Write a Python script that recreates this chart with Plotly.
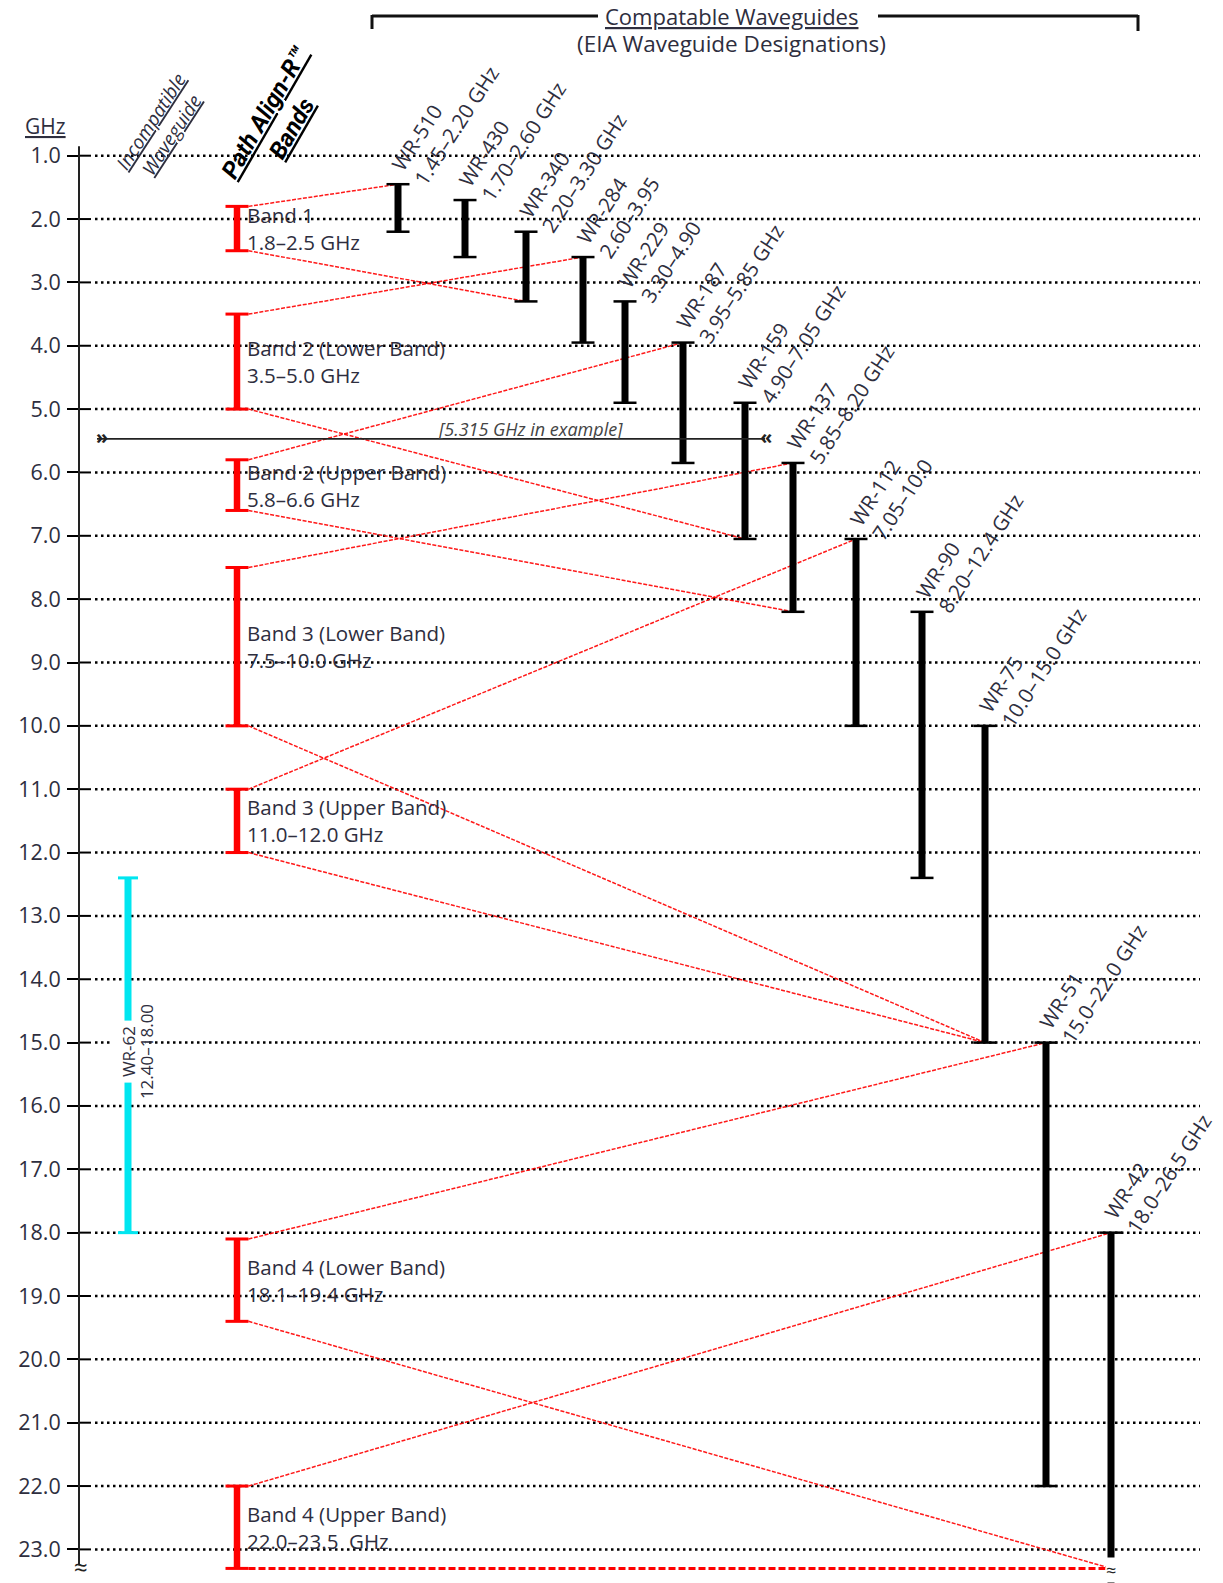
import plotly.graph_objects as go

# ---------------- data ----------------
TICK_VALUES = [1, 2, 3, 4, 5, 6, 7, 8, 9, 10, 11, 12, 13, 14, 15, 16, 17, 18, 19, 20, 21, 22, 23]
TICK_LABELS = ["1.0", "2.0", "3.0", "4.0", "5.0", "6.0", "7.0", "8.0", "9.0", "10.0", "11.0", "12.0",
               "13.0", "14.0", "15.0", "16.0", "17.0", "18.0", "19.0", "20.0", "21.0", "22.0", "23.0"]

WG_NAMES = ["WR-510", "WR-430", "WR-340", "WR-284", "WR-229", "WR-187", "WR-159",
            "WR-137", "WR-112", "WR-90", "WR-75", "WR-51", "WR-42"]
WG_LOW = [1.45, 1.70, 2.20, 2.60, 3.30, 3.95, 4.90, 5.85, 7.05, 8.20, 10.0, 15.0, 18.0]
WG_HIGH = [2.20, 2.60, 3.30, 3.95, 4.90, 5.85, 7.05, 8.20, 10.0, 12.4, 15.0, 22.0, 26.5]
WG_RANGE_TEXT = ["1.45–2.20 GHz", "1.70–2.60 GHz", "2.20–3.30 GHz", "2.60–3.95", "3.30–4.90",
                 "3.95–5.85 GHz", "4.90–7.05 GHz", "5.85–8.20 GHz", "7.05–10.0", "8.20–12.4 GHz",
                 "10.0–15.0 GHz", "15.0–22.0 GHz", "18.0–26.5 GHz"]

BAND_NAMES = ["Band 1", "Band 2 (Lower Band)", "Band 2 (Upper Band)", "Band 3 (Lower Band)",
              "Band 3 (Upper Band)", "Band 4 (Lower Band)", "Band 4 (Upper Band)"]
BAND_LOW = [1.8, 3.5, 5.8, 7.5, 11.0, 18.1, 22.0]
BAND_HIGH = [2.5, 5.0, 6.6, 10.0, 12.0, 19.4, 23.5]
BAND_RANGE_TEXT = ["1.8–2.5 GHz", "3.5–5.0 GHz", "5.8–6.6 GHz", "7.5–10.0 GHz",
                   "11.0–12.0 GHz", "18.1–19.4 GHz", "22.0–23.5  GHz"]
# compatible waveguide range per band (first / last compatible waveguide)
BAND_FIRST_WG = ["WR-510", "WR-284", "WR-187", "WR-137", "WR-112", "WR-51", "WR-42"]
BAND_LAST_WG = ["WR-340", "WR-159", "WR-137", "WR-75", "WR-75", "WR-42", "WR-42"]

INCOMP_NAME = "WR-62"
INCOMP_LOW = 12.40
INCOMP_HIGH = 18.00
INCOMP_RANGE_TEXT = "12.40–18.00"

EXAMPLE_TEXT = "[5.315 GHz in example]"
EXAMPLE_LINE_GHZ = 5.47  # where the example line is drawn in the picture

# ---------------- layout constants ----------------
FIG_W, FIG_H = 1223, 1583
Y1_PX = 155.7
PX_PER_GHZ = 63.35
Y_TOP = 1 - Y1_PX / PX_PER_GHZ
Y_BOTTOM = 1 + (FIG_H - Y1_PX) / PX_PER_GHZ
BREAK = 23.3          # axis break: off-scale values are shown here

AXIS_X = 79
BAND_X = 237
WG_X = [398, 465, 526, 583, 625, 683, 745, 793, 856, 922, 985, 1046, 1111]
INCOMP_X = 128
CAP = 11.5
GRID_X0, GRID_X1 = 95, 1200

TEXT_COLOR = "#2e2e3e"
FONT = "Open Sans"


def shown(v):
    return min(v, BREAK)


def py(px):  # pixel row -> paper fraction
    return 1 - px / FIG_H


wg_index = {n: i for i, n in enumerate(WG_NAMES)}

fig = go.Figure()

# red connector lines (band range -> compatible waveguides)
cx, cy = [], []
for i in range(len(BAND_NAMES)):
    f = wg_index[BAND_FIRST_WG[i]]
    l = wg_index[BAND_LAST_WG[i]]
    cx += [BAND_X + CAP, WG_X[f], None]
    cy += [BAND_LOW[i], WG_LOW[f], None]
    if i < len(BAND_NAMES) - 1:
        cx += [BAND_X + CAP, WG_X[l], None]
        cy += [shown(BAND_HIGH[i]), shown(WG_HIGH[l]), None]
fig.add_trace(go.Scatter(x=cx, y=cy, mode="lines",
                         line=dict(color="rgba(255,0,0,0.9)", width=1.5, dash="4px,1.5px"),
                         hoverinfo="skip"))
# last band bottom -> WR-42 bottom (heavy dashed, along the break)
last = len(BAND_NAMES) - 1
lw = wg_index[BAND_LAST_WG[last]]
fig.add_trace(go.Scatter(x=[BAND_X + CAP, WG_X[lw]],
                         y=[shown(BAND_HIGH[last]), shown(WG_HIGH[lw])], mode="lines",
                         line=dict(color="red", width=3, dash="7px,3px"), hoverinfo="skip"))

# waveguide bars
bx, by, kx, ky = [], [], [], []
for i in range(len(WG_NAMES)):
    bx += [WG_X[i], WG_X[i], None]
    by += [WG_LOW[i], WG_HIGH[i], None]
    for v in (WG_LOW[i], WG_HIGH[i]):
        kx += [WG_X[i] - CAP, WG_X[i] + CAP, None]
        ky += [v, v, None]
fig.add_trace(go.Scatter(x=bx, y=by, mode="lines", line=dict(color="black", width=7), hoverinfo="skip"))
fig.add_trace(go.Scatter(x=kx, y=ky, mode="lines", line=dict(color="black", width=2.5), hoverinfo="skip"))

# band bars
rx, ry, rkx, rky = [], [], [], []
for i in range(len(BAND_NAMES)):
    rx += [BAND_X, BAND_X, None]
    ry += [BAND_LOW[i], shown(BAND_HIGH[i]), None]
    for v in (BAND_LOW[i], shown(BAND_HIGH[i])):
        rkx += [BAND_X - CAP, BAND_X + CAP, None]
        rky += [v, v, None]
fig.add_trace(go.Scatter(x=rx, y=ry, mode="lines", line=dict(color="red", width=6.5), hoverinfo="skip"))
fig.add_trace(go.Scatter(x=rkx, y=rky, mode="lines", line=dict(color="red", width=3), hoverinfo="skip"))

# incompatible waveguide (cyan)
fig.add_trace(go.Scatter(x=[INCOMP_X, INCOMP_X], y=[INCOMP_LOW, INCOMP_HIGH], mode="lines",
                         line=dict(color="#00E6F0", width=7), hoverinfo="skip"))
fig.add_trace(go.Scatter(x=[INCOMP_X - 10, INCOMP_X + 10, None, INCOMP_X - 10, INCOMP_X + 10],
                         y=[INCOMP_LOW, INCOMP_LOW, None, INCOMP_HIGH, INCOMP_HIGH], mode="lines",
                         line=dict(color="#00E6F0", width=3), hoverinfo="skip"))

# example frequency line
fig.add_trace(go.Scatter(x=[97, 765], y=[EXAMPLE_LINE_GHZ, EXAMPLE_LINE_GHZ], mode="lines",
                         line=dict(color="#222", width=1.6), hoverinfo="skip"))

shapes = []
# dotted grid lines
for v in TICK_VALUES:
    shapes.append(dict(type="line", xref="x", yref="y", x0=GRID_X0, x1=GRID_X1, y0=v, y1=v,
                       line=dict(color="black", width=2.5, dash="2.5px,3.5px"), layer="below"))
    # inner half of the crossing tick
    shapes.append(dict(type="line", xref="x", yref="y", x0=AXIS_X, x1=AXIS_X + 12, y0=v, y1=v,
                       line=dict(color="black", width=2)))
# axis line
shapes.append(dict(type="line", xref="x", yref="y", x0=AXIS_X, x1=AXIS_X, y0=0.85, y1=BREAK - 0.05,
                   line=dict(color="#222", width=2)))
# bracket above compatible waveguides
for (x0, y0, x1, y1) in [(372, 16, 598, 16), (878, 16, 1138, 16), (372, 15, 372, 29), (1138, 15, 1138, 31)]:
    shapes.append(dict(type="line", xref="x", yref="paper", x0=x0, x1=x1, y0=py(y0), y1=py(y1),
                       line=dict(color="#111", width=3)))

ann = []
UL = "<span style='text-decoration:underline'>{}</span>"


def A(**kw):
    d = dict(showarrow=False, xanchor="center", yanchor="middle")
    d.update(kw)
    ann.append(d)


# waveguide labels
for i in range(len(WG_NAMES)):
    A(x=WG_X[i], y=WG_LOW[i], xref="x", yref="y",
      text=f"{WG_NAMES[i]}<br>{WG_RANGE_TEXT[i]}", textangle=-57,
      xanchor="left", yanchor="bottom", align="left", xshift=-16, yshift=-9,
      font=dict(family=FONT, size=20.5, color=TEXT_COLOR))
# band labels
for i in range(len(BAND_NAMES)):
    mid = (BAND_LOW[i] + shown(BAND_HIGH[i])) / 2
    A(x=BAND_X, y=mid, xref="x", yref="y",
      text=f"{BAND_NAMES[i]}<br>{BAND_RANGE_TEXT[i]}", xanchor="left", align="left", xshift=8,
      font=dict(family=FONT, size=20.5, color=TEXT_COLOR))
# incompatible label
mid_inc = (INCOMP_LOW + INCOMP_HIGH) / 2 - 0.05
A(x=INCOMP_X, y=mid_inc, xref="x", yref="y", text=INCOMP_NAME, textangle=-90,
  bgcolor="white", borderpad=5, font=dict(family=FONT, size=17, color=TEXT_COLOR))
A(x=INCOMP_X, y=mid_inc, xref="x", yref="y", text=INCOMP_RANGE_TEXT, textangle=-90, xshift=18,
  font=dict(family=FONT, size=17, color=TEXT_COLOR))
# example text and chevrons
A(x=530, y=EXAMPLE_LINE_GHZ, xref="x", yref="y", text=f"<i>{EXAMPLE_TEXT}</i>", yshift=10,
  font=dict(family=FONT, size=18, color="#444"))
A(x=102, y=EXAMPLE_LINE_GHZ, xref="x", yref="y", text="<b>»</b>", yshift=2,
  font=dict(family=FONT, size=20, color="#222"))
A(x=766, y=EXAMPLE_LINE_GHZ, xref="x", yref="y", text="<b>«</b>", yshift=2,
  font=dict(family=FONT, size=20, color="#222"))
# axis break symbols
A(x=AXIS_X + 2, y=BREAK, xref="x", yref="y", text="≈", yshift=2, borderpad=0,
  font=dict(family=FONT, size=24, color="#222"))
A(x=WG_X[-1], y=BREAK, xref="x", yref="y", text="≈", yshift=-2, bgcolor="white", borderpad=0,
  font=dict(family=FONT, size=18, color="#222"))
# headers
A(x=45, y=py(126), xref="x", yref="paper", text=UL.format("GHz"),
  font=dict(family=FONT, size=21, color=TEXT_COLOR))
A(x=731, y=py(16), xref="x", yref="paper", text=UL.format("Compatable Waveguides"),
  font=dict(family=FONT, size=22, color=TEXT_COLOR))
A(x=731, y=py(44), xref="x", yref="paper", text="(EIA Waveguide Designations)",
  font=dict(family=FONT, size=22.5, color=TEXT_COLOR))
A(x=161, y=py(128), xref="x", yref="paper", textangle=-57,
  text="<i>" + UL.format("Incompatible") + "<br>" + UL.format("Waveguide") + "</i>",
  font=dict(family=FONT, size=19, color=TEXT_COLOR))
A(x=278, y=py(120), xref="x", yref="paper", textangle=-60,
  text="<b><i>" + UL.format("Path Align-R™") + "<br>" + UL.format("Bands") + "</i></b>",
  font=dict(family="Roboto", size=24, color="black"))

fig.update_layout(
    width=FIG_W, height=FIG_H, margin=dict(l=0, r=0, t=0, b=0),
    paper_bgcolor="white", plot_bgcolor="white", showlegend=False, hovermode=False,
    xaxis=dict(range=[0, FIG_W], visible=False, fixedrange=True),
    yaxis=dict(range=[Y_BOTTOM, Y_TOP], anchor="free", position=AXIS_X / FIG_W,
               showline=False, showgrid=False, zeroline=False,
               ticks="outside", ticklen=12, tickwidth=2, tickcolor="black",
               tickvals=TICK_VALUES, ticktext=TICK_LABELS, ticklabelstandoff=2,
               tickfont=dict(family=FONT, size=21.5, color=TEXT_COLOR), fixedrange=True),
    shapes=shapes, annotations=ann,
)

fig.write_html("out.html", config={"displayModeBar": False},
               post_script="document.body.style.margin='0px';")
